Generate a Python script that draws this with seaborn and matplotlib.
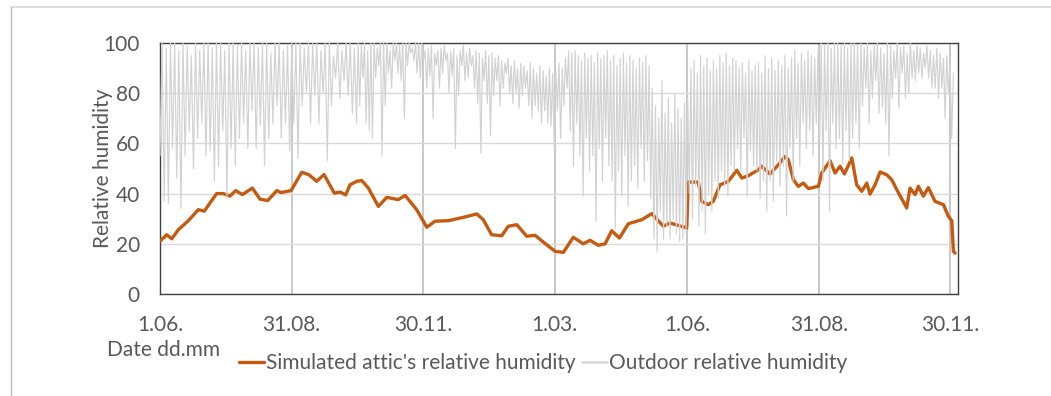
import numpy as np
import pandas as pd
import matplotlib
matplotlib.use("Agg")
import matplotlib.pyplot as plt
from matplotlib.lines import Line2D
import seaborn as sns

# ---------------- data ----------------
tick_days = [0, 91, 182, 273, 365, 456, 547]
tick_labels = ["1.06.", "31.08.", "30.11.", "1.03.", "1.06.", "31.08.", "30.11."]

# Simulated attic relative humidity (days since 1.06.)
attic_day = [0, 4.6, 8.1, 12.7, 19.6, 26.5, 30.7, 34.6, 39.2, 43.8, 48.4, 52.4, 57.0, 63.9,
             69.2, 74.5, 80.8, 83.7, 90.7, 98.1, 103.1, 108.4, 113.5, 120.6, 124.6, 128.5,
             131.5, 136.1, 139.6, 144.2, 151.1, 156.9, 164.9, 169.6, 177.6, 184.6, 190.3,
             199.5, 211.1, 219.2, 223.7, 229.5, 236.5, 241.0, 246.9, 253.8, 259.5, 267.6,
             273.4, 279.1, 286.0, 292.9, 297.6, 303.3, 308.0, 312.6, 317.9, 324.1, 333.4,
             340.3, 348.3, 352.9, 364.5, 365.6, 372.5, 374.9, 379.4, 382.9, 387.5, 393.3,
             399.1, 402.6, 407.1, 414.0, 416.4, 422.1, 427.9, 432.5, 434.8, 438.3, 441.7,
             445.2, 448.7, 455.6, 457.9, 463.7, 467.1, 470.6, 473.6, 478.7, 482.1, 485.6,
             489.1, 491.3, 494.8, 498.3, 502.9, 506.4, 509.8, 516.7, 519.0, 522.5, 524.8,
             528.2, 531.7, 536.3, 542.1, 545.5, 547.9, 549.0, 550.2]
attic_rh = [21.0, 23.6, 22.0, 25.6, 29.2, 33.6, 33.0, 36.3, 40.0, 40.0, 39.0, 41.2, 39.6, 42.2,
            37.8, 37.2, 41.2, 40.4, 41.2, 48.5, 47.5, 44.9, 47.6, 40.2, 40.6, 39.5,
            43.5, 44.9, 45.2, 42.2, 34.9, 38.5, 37.6, 39.3, 33.6, 26.6, 29.0,
            29.2, 30.7, 31.9, 29.6, 23.6, 23.2, 27.0, 27.6, 23.0, 23.4, 19.6,
            17.0, 16.6, 22.6, 20.0, 21.4, 19.4, 20.0, 25.2, 22.3, 28.0, 29.6,
            32.0, 27.0, 28.3, 26.3, 44.6, 44.6, 36.9, 35.6, 36.9, 43.5, 44.9,
            49.3, 46.2, 47.1, 49.5, 50.9, 47.8, 51.5, 54.8, 53.5, 45.5, 42.9,
            44.2, 42.0, 42.9, 48.2, 53.1, 48.2, 50.9, 47.8, 54.2, 43.5, 40.9,
            44.2, 39.8, 43.5, 48.6, 47.5, 45.5, 41.6, 34.3, 42.2, 39.6, 42.9,
            39.0, 42.4, 36.9, 35.6, 31.0, 29.2, 17.0, 16.3]

# Outdoor relative humidity: alternating troughs / peaks read in four stretches
seg_bounds = [0, 136, 275, 413, 549]
out_low_1 = [55, 37, 36, 58, 46, 34, 55, 65, 50, 62, 68, 55, 57, 45, 51, 65, 38, 58, 51, 62,
             68, 58, 73, 58, 67, 51, 62, 68, 75, 62, 68, 57, 68, 54, 75, 80, 68, 79, 68, 80,
             53, 75, 86, 78, 85, 79, 72]
out_high_1 = [100, 98, 100, 100, 97, 100, 99, 95, 100, 97, 100, 100, 98, 100, 100, 97, 100, 100,
              99, 100, 97, 100, 100, 98, 100, 100, 96, 100, 100, 97, 99, 100, 100, 100, 98, 100,
              100, 100, 97, 100, 100, 95, 100, 97, 100, 100, 98]
out_low_2 = [68, 75, 86, 68, 65, 62, 86, 91, 55, 75, 88, 82, 93, 88, 85, 70, 91, 96, 93, 88,
             86, 93, 82, 87, 70, 91, 82, 88, 93, 80, 87, 58, 79, 91, 85, 86, 91, 82, 76, 56,
             85, 76, 63, 79, 85, 75, 82, 88, 80, 76, 80, 74, 79, 82, 75, 70, 75, 73, 68, 73,
             68, 67, 58]
out_high_2 = [100, 99, 100, 97, 100, 100, 98, 100, 100, 100, 97, 100, 100, 99, 100, 100, 100, 98,
              100, 100, 100, 97, 98, 99, 96, 97, 98, 99, 96, 97, 98, 95, 97, 99, 96, 98, 95, 97,
              96, 94, 97, 95, 96, 94, 95, 93, 92, 94, 91, 93, 90, 92, 91, 89, 92, 90, 88, 91,
              89, 87, 90, 88, 89]
out_low_3 = [73, 62, 75, 82, 65, 51, 68, 55, 39, 62, 49, 55, 29, 58, 45, 62, 51, 45, 26, 49,
             39, 55, 35, 45, 51, 42, 58, 45, 53, 38, 22, 17, 33, 22, 27, 22, 30, 24, 21, 22,
             24, 40, 30, 43, 27, 33, 24, 40, 33, 45, 38, 49, 43, 39, 51, 49, 58, 49, 62, 39,
             57, 51]
out_high_3 = [92, 90, 94, 97, 96, 97, 95, 93, 96, 94, 95, 92, 96, 94, 95, 97, 93, 95, 91, 94,
              96, 92, 95, 93, 90, 94, 92, 95, 91, 82, 75, 70, 85, 72, 78, 68, 80, 74, 70, 76,
              78, 90, 93, 88, 95, 91, 94, 89, 93, 90, 95, 92, 96, 91, 94, 93, 90, 92, 88, 93,
              89, 91]
out_low_4 = [49, 38, 45, 33, 45, 37, 53, 43, 51, 31, 58, 45, 62, 51, 68, 58, 65, 55, 68, 62,
             45, 65, 33, 68, 58, 62, 52, 65, 53, 62, 68, 58, 75, 82, 68, 78, 85, 72, 74, 68,
             55, 78, 86, 74, 88, 78, 80, 86, 85, 88, 86, 90, 86, 82, 82, 78, 82, 70, 80, 62]
out_high_4 = [92, 88, 95, 90, 94, 89, 93, 91, 95, 90, 94, 97, 92, 96, 93, 97, 95, 94, 96,
              100, 99, 100, 98, 100, 100, 99, 100, 98, 100, 100, 99, 100, 98,
              100, 97, 99, 100, 98, 96, 100, 99, 97, 100, 98, 99, 96, 100, 97, 99, 98, 96, 99,
              97, 95, 98, 96, 94, 95, 92, 88]

series_names = ["Simulated attic's relative humidity", "Outdoor relative humidity"]
colors = ["#c55a11", "#d2d2d2"]

# ---------------- build tables ----------------
attic = pd.DataFrame({"day": attic_day, "rh": attic_rh})

out_days, out_vals = [], []
segs = [(out_low_1, out_high_1), (out_low_2, out_high_2),
        (out_low_3, out_high_3), (out_low_4, out_high_4)]
for k, (lo, hi) in enumerate(segs):
    seq = []
    for a, b in zip(lo, hi):
        seq.extend([a, b])
    d = np.linspace(seg_bounds[k], seg_bounds[k + 1], len(seq), endpoint=(k == 3))
    out_days.extend(d.tolist())
    out_vals.extend(seq)
outdoor = pd.DataFrame({"day": out_days, "rh": out_vals})

# ---------------- plot ----------------
sns.set_theme(style="white")
plt.rcParams["font.family"] = ["Lato", "DejaVu Sans"]
txt = "#595959"
fs = 15

W, H = 1051, 396
fig = plt.figure(figsize=(W / 100, H / 100), dpi=100)
ax = fig.add_axes([160 / W, 1 - 294 / H, (958 - 160) / W, (294 - 43) / H])

sns.lineplot(data=attic, x="day", y="rh", ax=ax, color=colors[0], linewidth=2.4,
             estimator=None, sort=False, legend=False, zorder=3)
sns.lineplot(data=outdoor, x="day", y="rh", ax=ax, color=colors[1], linewidth=0.85,
             estimator=None, sort=False, legend=False, zorder=4)

ax.set_xlim(0, 552.2)
ax.set_ylim(0, 100)
ax.set_xticks(tick_days)
ax.set_xticklabels(tick_labels)
ax.set_yticks([0, 20, 40, 60, 80, 100])
ax.tick_params(axis="x", length=0, pad=15, labelsize=fs, labelcolor=txt)
ax.tick_params(axis="y", length=0, pad=14.5, labelsize=fs, labelcolor=txt)
ax.grid(axis="y", color="#d9d9d9", linewidth=1.0, zorder=0)
ax.grid(axis="x", color="#bfbfbf", linewidth=1.2, zorder=0)
ax.set_axisbelow(True)
for s in ax.spines.values():
    s.set_visible(True)
    s.set_color("#404040")
    s.set_linewidth(1.0)

ax.set_xlabel("")
ax.set_ylabel("Relative humidity", fontsize=fs, color=txt)
ax.yaxis.label.set_va("center")
ax.yaxis.set_label_coords((103 - 160) / (958 - 160), 0.5)

fig.text(107 / W, 1 - 350 / H, "Date dd.mm", ha="left", va="center", fontsize=fs, color=txt)

handles = [Line2D([], [], color=colors[0], lw=2.4), Line2D([], [], color="#d9d9d9", lw=2.0)]
leg = fig.legend(handles, series_names, loc="center", bbox_to_anchor=(543 / W, 1 - 363 / H),
                 ncol=2, frameon=False, fontsize=fs, handlelength=1.2, handletextpad=0.1,
                 columnspacing=0.3, labelcolor=txt)

# outer frame lines
fig.add_artist(Line2D([11 / W, 1], [1 - 7 / H, 1 - 7 / H], transform=fig.transFigure,
                      color="#d9d9d9", lw=1.2))
fig.add_artist(Line2D([11 / W, 11 / W], [0, 1 - 7 / H], transform=fig.transFigure,
                      color="#bfbfbf", lw=1.0))

fig.savefig("out.png", dpi=100, facecolor="white")
